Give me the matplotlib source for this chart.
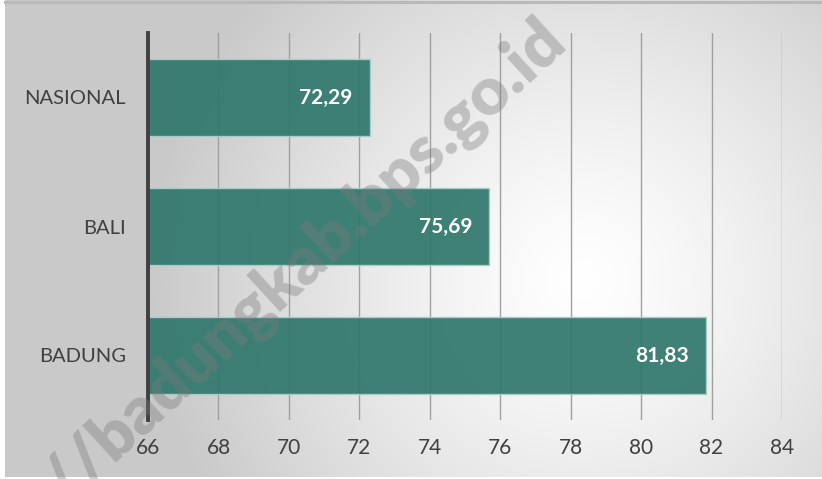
import numpy as np
import matplotlib
matplotlib.use("Agg")
import matplotlib.pyplot as plt

categories = ["BADUNG", "BALI", "NASIONAL"]
values = [81.83, 75.69, 72.29]
value_labels = ["81,83", "75,69", "72,29"]
xticks = [66, 68, 70, 72, 74, 76, 78, 80, 82, 84]

W, H = 822, 479
fig = plt.figure(figsize=(W / 100, H / 100), dpi=100)
fig.patch.set_facecolor("white")

# background radial gradient panel
bx0, bx1, by0, by1 = 5, 822, 0, 477
bg = fig.add_axes([bx0 / W, 1 - by1 / H, (bx1 - bx0) / W, (by1 - by0) / H], zorder=0)
yy, xx = np.mgrid[by0:by1, bx0:bx1]
cx, cy = 580, 280
r = np.sqrt((xx - cx) ** 2 + (yy - cy) ** 2)
v = 1 - 0.21 * np.clip(r / 430, 0, 1) ** 1.3
img = np.dstack([v, v, v])
bg.imshow(img, aspect="auto", extent=[0, 1, 0, 1], origin="upper")
bg.set_axis_off()
fig.add_artist(plt.Line2D([bx0 / W, 1], [1 - 1.5 / H, 1 - 1.5 / H], transform=fig.transFigure,
                          color="#b9b9b9", lw=2.2, zorder=1))

font = "Lato"
ax = fig.add_axes([148 / W, 1 - 420 / H, (782 - 148) / W, (420 - 33) / H], zorder=2)
ax.patch.set_alpha(0)
y = np.arange(len(categories))
ax.barh(y, [val - 66 for val in values], left=66, height=0.6, color="#2f776c", alpha=0.92,
        edgecolor="#a9d0c8", linewidth=1.0, zorder=3)
ax.set_xlim(66, 84)
ax.set_ylim(-0.5, 2.5)
ax.set_xticks(xticks)
ax.set_xticklabels([str(t) for t in xticks], fontsize=15, color="#404040", family=font)
ax.set_yticks(y)
ax.set_yticklabels(categories, fontsize=14.5, color="#404040", family=font)
ax.tick_params(axis="both", length=0)
ax.tick_params(axis="x", pad=13)
ax.tick_params(axis="y", pad=16)
for s in ["top", "right", "bottom"]:
    ax.spines[s].set_visible(False)
ax.spines["left"].set_color("#404040")
ax.spines["left"].set_linewidth(2.8)
ax.spines["left"].set_zorder(5)
ax.xaxis.grid(True, color="#a0a0a0", linewidth=1.0, zorder=1)
ax.set_axisbelow(True)

for yi, val, lab in zip(y, values, value_labels):
    ax.annotate(lab, xy=(val, yi), xytext=(-17, 0), textcoords="offset pixels",
                ha="right", va="center", color="white", fontsize=15, fontweight="bold",
                family=font, zorder=6)

# watermark
fig.text(568 / W, 1 - 44 / H, "https://badungkab.bps.go.id", rotation=42.5, rotation_mode="anchor",
         ha="right", va="baseline", fontsize=48, fontweight="heavy", color="#7a7a7a", alpha=0.38,
         family="Lato", zorder=10)

fig.savefig("out.png", dpi=100)
